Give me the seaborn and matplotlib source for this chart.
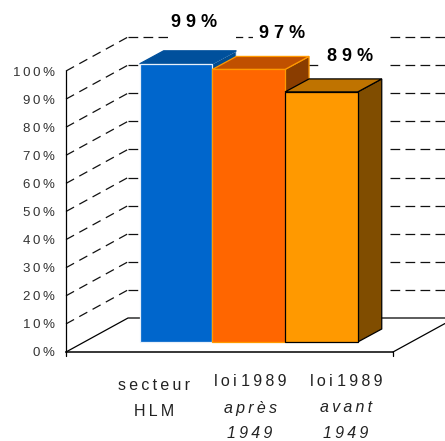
import matplotlib
matplotlib.use("Agg")
import matplotlib.pyplot as plt
import pandas as pd
import seaborn as sns
from matplotlib.patches import Polygon, Rectangle
from matplotlib.transforms import IdentityTransform

# Figures
categories = ["secteur HLM", "loi 1989 après 1949", "loi 1989 avant 1949"]
shares = [99, 97, 89]
label_upright = [["secteur", "HLM"], ["loi 1989"], ["loi 1989"]]
label_italic = [[], ["après", "1949"], ["avant", "1949"]]
value_labels = ["9 9 %", "9 7 %", "8 9 %"]
y_ticks = list(range(0, 101, 10))


def tracked(text):
    """Open up the letter spacing with thin spaces, leaving word gaps alone."""
    return " ".join("\u2009".join(word) for word in text.split(" "))


y_tick_labels = [tracked(f"{t}%") for t in y_ticks]

face_colors = ["#0066CC", "#FF6600", "#FF9900"]
top_colors = ["#00509C", "#C05000", "#BF7300"]
side_colors = ["#004C90", "#8A3D00", "#804D00"]
edge_colors = ["#E8F0FA", "#FF9900", "#000000"]

W, H, DPI = 445, 441, 100
sns.set_theme(style="white")
plt.rcParams["font.family"] = ["Liberation Sans", "DejaVu Sans"]
plt.rcParams["lines.scale_dashes"] = False
PX = 72 / DPI


def box(left, top, right, bottom):
    return [left / W, 1 - bottom / H, (right - left) / W, (bottom - top) / H]


fig = plt.figure(figsize=(W / DPI, H / DPI), dpi=DPI, facecolor="white")

# Front plane of the chart box: percentage axis and category positions
wall = fig.add_axes(box(66, 71, 393, 352), facecolor="none")
wall.set_ylim(0, 100)
unit_x = 96
wall.set_xlim((66 - 154) / unit_x, (393 - 154) / unit_x)
wall.set_yticks(y_ticks, y_tick_labels)
wall.set_xticks([])
wall.tick_params(axis="y", length=5, width=0.8, color="black", pad=3, labelsize=9.5, labelcolor="#333333")
for name, spine in wall.spines.items():
    spine.set_visible(name in ("left", "bottom"))
    spine.set_color("black")
    spine.set_linewidth(0.9 if name == "left" else 1.1)

# Depth of the box, expressed in the units of the front plane
depth_x = 62 / unit_x
depth_y = 34 / 2.81
x0, x1 = wall.get_xlim()
corner_x = x0 + depth_x
mid_x = x0 + (321 - 66) / unit_x
right_x = x0 + (390 - 66) / unit_x
far_x = x0 + (445 - 66) / unit_x
dash = dict(color="#111111", lw=0.9, clip_on=False, zorder=1)
for t in y_ticks[1:]:
    back = t + depth_y
    wall.plot([x0, corner_x], [t, back], linestyle=(0, (6.6, 4.3)), **dash)
    wall.plot([corner_x, mid_x], [back, back], linestyle=(0, (7.0, 3.8)), **dash)
    wall.plot([right_x, far_x], [back, back], linestyle=(0, (7.0, 3.8)), **dash)
solid = dict(color="black", lw=0.9, clip_on=False, zorder=1)
wall.plot([x0, corner_x, far_x], [0, depth_y, depth_y], **solid)
wall.plot([x1, x1 + 52 / unit_x], [0, 28.5 / 2.81], **solid)
for x in (x0, x1):
    wall.plot([x, x], [0, -1.4], **solid)

# Stacked label lines under each column
tick_transform = wall.get_xaxis_transform()
for i in range(3):
    for text, py in zip(label_upright[i], [385 if i == 0 else 382, 411]):
        wall.annotate(tracked(text), (i, 0), xycoords=tick_transform, xytext=(0, -(py - 352) * PX),
                      textcoords="offset points", ha="center", va="center",
                      fontsize=11.5, color="#222222", annotation_clip=False)
    for text, py in zip(label_italic[i], [408, 433]):
        wall.annotate(tracked(text), (i, 0), xycoords=tick_transform, xytext=(0, -(py - 352) * PX),
                      textcoords="offset points", ha="center", va="center",
                      fontsize=11.5, style="italic", color="#222222", annotation_clip=False)

# Columns stand on a plane set back from the front of the box
ax = fig.add_axes(box(84, 61, 411, 342), facecolor="none")
frame = pd.DataFrame({"category": categories, "share": shares})
sns.barplot(data=frame, x="category", y="share", hue="category", palette=face_colors,
            legend=False, width=1.0, saturation=1, ax=ax)
ax.set_ylim(0, 100)
unit_bar = 72.7
ax.set_xlim((84 - 176) / unit_bar, (411 - 176) / unit_bar)
ax.axis("off")

bars = list(ax.patches)
bar_dx = 24 / unit_bar
bar_dy = 13 / 2.81
for i, bar in enumerate(bars):
    left, right = bar.get_x(), bar.get_x() + bar.get_width()
    top = bar.get_height()
    z = 3 + i
    ax.add_patch(Polygon([(right, 0), (right + bar_dx, bar_dy), (right + bar_dx, top + bar_dy), (right, top)],
                         closed=True, fc=side_colors[i], ec=edge_colors[i], lw=0.9, zorder=z, clip_on=False))
    ax.add_patch(Polygon([(left, top), (left + bar_dx, top + bar_dy), (right + bar_dx, top + bar_dy), (right, top)],
                         closed=True, fc=top_colors[i], ec=edge_colors[i] if i else top_colors[i], lw=0.9,
                         zorder=z, clip_on=False))
    bar.set_edgecolor(edge_colors[i])
    bar.set_linewidth(0.9)
    bar.set_zorder(z + 0.5)
    bar.set_clip_on(False)

# White plates behind the value labels interrupt the top dashed line
for left, right in [(168, 236), (253, 322)]:
    fig.add_artist(Rectangle((left, H - 42), right - left, 12, fc="white", ec="none",
                             transform=IdentityTransform(), zorder=0.5))
wall.set_zorder(0)
ax.set_zorder(1)

label_offsets = [(18, 41), (33, 36), (29, 35)]
for i, bar in enumerate(bars):
    dx, dy = label_offsets[i]
    ax.annotate(value_labels[i], (bar.get_x() + bar.get_width() / 2, bar.get_height()),
                xytext=(dx * PX, dy * PX), textcoords="offset points", ha="center", va="center",
                fontsize=13, fontweight="bold", color="black", zorder=8, annotation_clip=False)

fig.savefig("out.png", dpi=DPI)
